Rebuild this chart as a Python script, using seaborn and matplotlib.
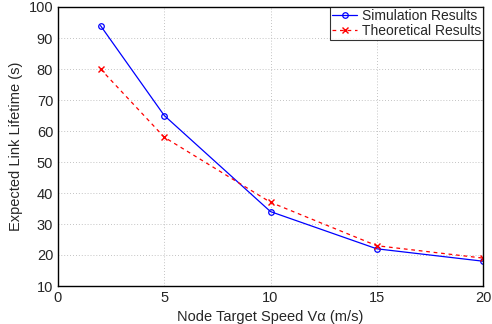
import matplotlib
matplotlib.use("Agg")
import matplotlib.pyplot as plt
import seaborn as sns
import pandas as pd

speeds = [2, 5, 10, 15, 20]
sim_values = [94, 65, 34, 22, 18]
theory_values = [80, 58, 37, 23, 19]
x_ticks = [0, 5, 10, 15, 20]
y_ticks = [10, 20, 30, 40, 50, 60, 70, 80, 90, 100]

sns.set_style("white")
plt.rcParams['font.family'] = ['Liberation Sans', 'DejaVu Sans']

fig = plt.figure(figsize=(4.92, 3.24), dpi=100)
ax = fig.add_axes([58/492, 1-286/324, (483-58)/492, (286-7)/324])

df_sim = pd.DataFrame({"x": speeds, "y": sim_values})
df_th = pd.DataFrame({"x": speeds, "y": theory_values})

sns.lineplot(data=df_sim, x="x", y="y", ax=ax, color="blue", linewidth=0.9,
             marker="o", markersize=4, markerfacecolor="none", markeredgecolor="blue",
             markeredgewidth=0.9, label="Simulation Results")
sns.lineplot(data=df_th, x="x", y="y", ax=ax, color="red", linewidth=0.9,
             linestyle=(0, (3, 3)), marker="x", markersize=4, markeredgewidth=1.0,
             markeredgecolor="red", label="Theoretical Results")

ax.set_xlim(0, 20)
ax.set_ylim(10, 100)
ax.set_xticks(x_ticks)
ax.set_yticks(y_ticks)
ax.tick_params(labelsize=10.5, direction="in", length=3, width=0.8)
ax.grid(True, linestyle=(0, (1, 2.5)), color="#b0b0b0", linewidth=0.6)
for s in ax.spines.values():
    s.set_linewidth(1.0)
    s.set_color("black")
ax.set_xlabel("Node Target Speed Vα (m/s)", fontsize=10.5)
ax.set_ylabel("Expected Link Lifetime (s)", fontsize=10.5)

leg = ax.legend(loc="upper right", fontsize=10, frameon=True, fancybox=False,
                borderaxespad=0, handlelength=1.8, borderpad=0.15, labelspacing=0.05,
                handletextpad=0.3)
leg.get_frame().set_edgecolor("black")
leg.get_frame().set_linewidth(0.8)

fig.savefig("out.png", dpi=100)
